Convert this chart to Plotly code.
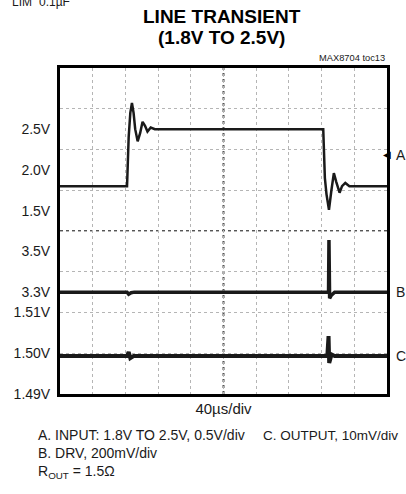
"""Line transient scope capture (MAX8704 toc13) redrawn with Plotly."""

import plotly.graph_objects as go

# time axis in microseconds, 40us/div over 10 divisions
TIME_RANGE = [0, 400]

# channel A: input, 0.5V/div
a_t = [0, 82, 83, 84, 86, 88, 90, 92, 95, 98, 101, 104, 107, 111, 116,
       322, 323, 324, 326, 329, 332, 335, 338, 342, 345, 349, 354, 400]
a_v = [1.8, 1.8, 2.1, 2.4, 2.7, 2.82, 2.7, 2.5, 2.35, 2.45, 2.59, 2.54, 2.47, 2.52, 2.5,
       2.5, 2.2, 1.9, 1.7, 1.51, 1.75, 1.96, 1.85, 1.72, 1.8, 1.84, 1.8, 1.8]

# channel B: DRV, 200mV/div
b_t = [0, 82, 84, 87, 91, 327, 328.5, 329, 329.8, 332, 336, 400]
b_v = [3.3, 3.3, 3.29, 3.297, 3.3, 3.3, 3.3, 3.556, 3.27, 3.285, 3.3, 3.3]

# channel C: output, 10mV/div
c_t = [0, 82, 84, 86, 90, 327, 328.5, 329.3, 330.5, 332, 336, 400]
c_v = [1.4993, 1.4993, 1.5003, 1.4988, 1.4993, 1.4993, 1.5042, 1.4976, 1.4985,
       1.4997, 1.4993, 1.4993]

# left-hand voltage labels per channel
a_ticks = [2.5, 2.0, 1.5]
b_ticks = [3.5, 3.3]
c_ticks = [1.51, 1.50, 1.49]

# (volts per division, volts at bottom of screen) for each channel
SCALE = {"A": (0.5, -0.75), "B": (0.2, 2.8), "C": (0.01, 1.49)}
N_DIV = 8

FONT = "Liberation Sans, Arial, sans-serif"
INK = "#1a1a1a"


def vrange(ch):
    vpd, bottom = SCALE[ch]
    return [bottom, bottom + N_DIV * vpd]


def to_div(ch, v):
    vpd, bottom = SCALE[ch]
    return (v - bottom) / vpd


tick_pos, tick_txt = [], []
for ch, vals, fmt in [("A", a_ticks, "{:.1f}V"), ("B", b_ticks, "{:.1f}V"), ("C", c_ticks, "{:.2f}V")]:
    tick_pos += [to_div(ch, v) for v in vals]
    tick_txt += [fmt.format(v) for v in vals]

fig = go.Figure()
fig.add_trace(go.Scatter(x=a_t, y=a_v, yaxis="y2", mode="lines",
                         line=dict(color=INK, width=2.5)))
fig.add_trace(go.Scatter(x=b_t, y=b_v, yaxis="y3", mode="lines",
                         line=dict(color=INK, width=3.5)))
fig.add_trace(go.Scatter(x=c_t, y=c_v, yaxis="y4", mode="lines",
                         line=dict(color=INK, width=4)))

# graticule centre lines
for shp in [dict(x0=200, x1=200, y0=0, y1=8), dict(x0=0, x1=400, y0=4, y1=4)]:
    fig.add_shape(type="line", xref="x", yref="y", layer="below",
                  line=dict(color="#555", width=2, dash="dot"), **shp)

hidden = dict(overlaying="y", anchor="x", visible=False)

fig.update_layout(
    width=406, height=494,
    margin=dict(l=60, r=19, t=68, b=100),
    paper_bgcolor="white", plot_bgcolor="white",
    showlegend=False,
    font=dict(family=FONT, color=INK),
    xaxis=dict(range=TIME_RANGE, dtick=40, showticklabels=False, ticks="",
               showgrid=True, griddash="dot", gridcolor="#b5b5b5", gridwidth=1,
               zeroline=False, showline=True, mirror=True, linewidth=3, linecolor="#000",
               title=dict(text="40µs/div", standoff=8,
                          font=dict(family=FONT, size=15, color=INK))),
    yaxis=dict(range=[0, N_DIV], tickvals=tick_pos, ticktext=tick_txt, ticks="",
               tickfont=dict(family=FONT, size=14, color=INK), ticklabelstandoff=4,
               showgrid=False, zeroline=False,
               showline=True, mirror=True, linewidth=3, linecolor="#000"),
    # channel A scale doubles as the horizontal graticule (one line per division)
    yaxis2=dict(overlaying="y", anchor="x", range=vrange("A"), tick0=vrange("A")[0],
                dtick=SCALE["A"][0], showticklabels=False, ticks="", zeroline=False,
                showline=False, showgrid=True, griddash="dot", gridcolor="#b5b5b5",
                gridwidth=1),
    yaxis3=dict(range=vrange("B"), **hidden),
    yaxis4=dict(range=vrange("C"), **hidden),
)

notes = [
    dict(text="<b>LINE TRANSIENT</b>", x=0.495, y=1.1595, xanchor="center",
         font=dict(size=19, color="#000")),
    dict(text="<b>(1.8V TO 2.5V)</b>", x=0.495, y=1.093, xanchor="center",
         font=dict(size=19, color="#000")),
    dict(text="MAX8704 toc13", x=1, y=1.01, xanchor="right", yanchor="bottom",
         font=dict(size=9.3)),
    dict(text="A. INPUT: 1.8V TO 2.5V, 0.5V/div", x=-0.073, y=-0.126),
    dict(text="C. OUTPUT, 10mV/div", x=0.614, y=-0.126, font=dict(size=13.5)),
    dict(text="B. DRV, 200mV/div", x=-0.073, y=-0.181),
    dict(text="R<sub>OUT</sub> = 1.5Ω", x=-0.073, y=-0.239),
    dict(text="LIM", x=-0.153, y=1.202, font=dict(size=12)),
    dict(text="0.1µF", x=-0.07, y=1.202, font=dict(size=12)),
]
for n in notes:
    n.setdefault("xanchor", "left")
    n.setdefault("yanchor", "middle")
    f = dict(family=FONT, size=14, color=INK)
    f.update(n.pop("font", {}))
    fig.add_annotation(xref="paper", yref="paper", showarrow=False, font=f, **n)

# channel markers on the right edge
fig.add_annotation(text="◀", xref="paper", yref="y", x=1.0, y=5.87, xanchor="center",
                   showarrow=False, font=dict(family="DejaVu Sans", size=10, color="#000"))
for name, axis, yy in [("A", "y", 5.87), ("B", "y3", 3.3), ("C", "y4", 1.4993)]:
    fig.add_annotation(text=name, xref="paper", yref=axis, x=1.02, y=yy,
                       xanchor="left", yanchor="middle", showarrow=False,
                       font=dict(family=FONT, size=14, color=INK))

fig.write_html("out.html", config={"displayModeBar": False},
               post_script="document.body.style.margin='0';")
